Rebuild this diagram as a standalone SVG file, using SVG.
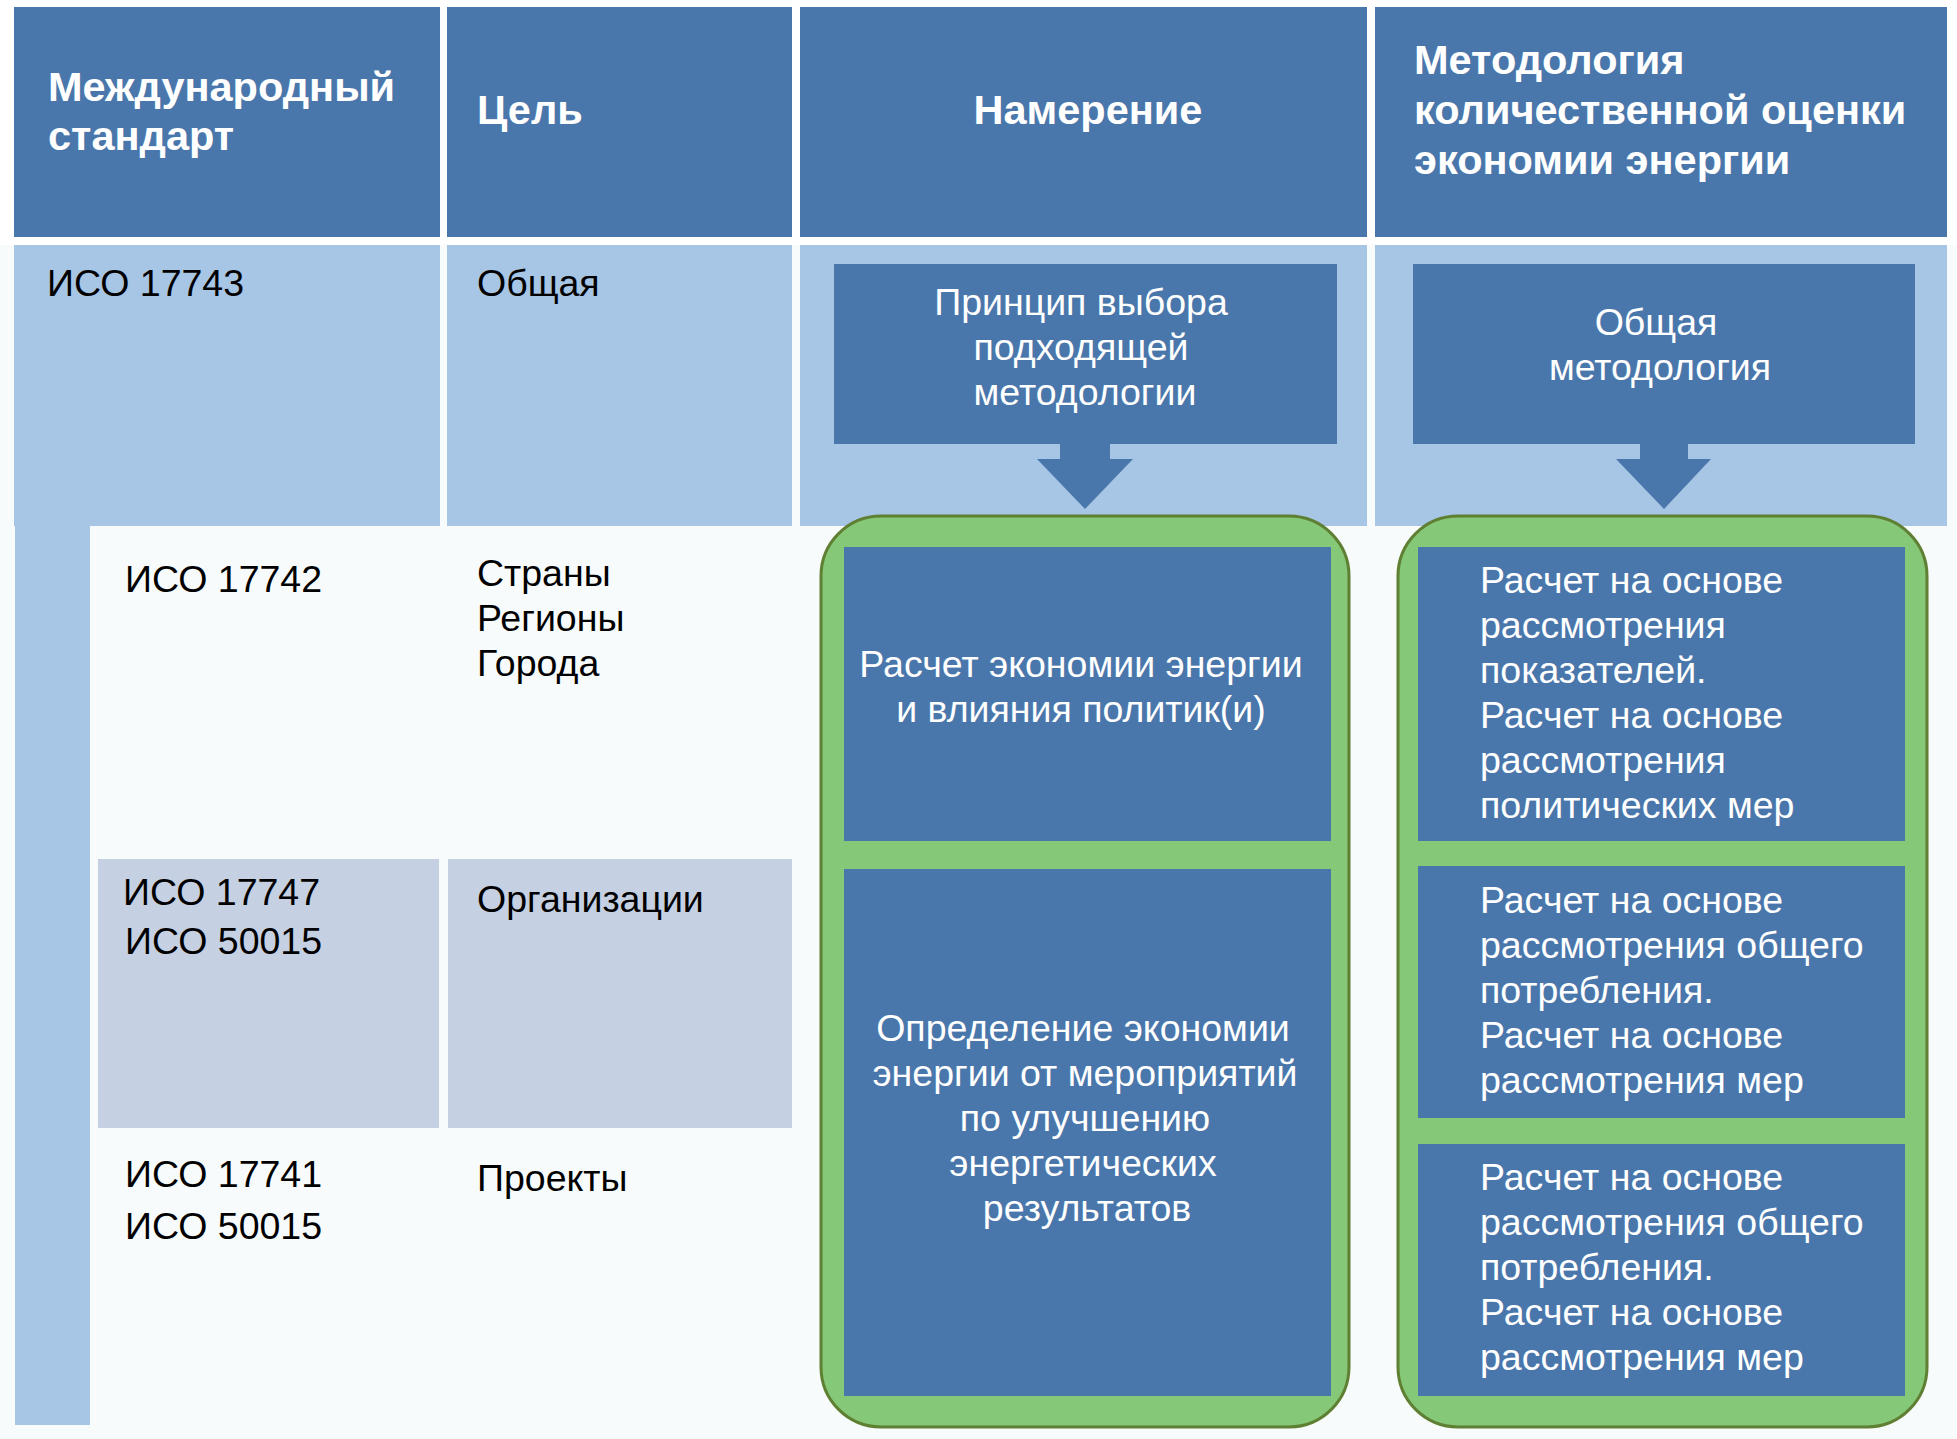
<svg xmlns="http://www.w3.org/2000/svg" width="1957" height="1439" viewBox="0 0 1957 1439">
<style>
.hdr{fill:#4A77AB}
.lb{fill:#A7C5E4}
.gb{fill:#C5D0E2}
.box{fill:#4A77AB}
.grn{fill:#85C878;stroke:#5F7F33;stroke-width:3}
.ht{font-family:"Liberation Sans",Arial,sans-serif;font-weight:bold;font-size:41.5px;fill:#FFFFFF}
.bt{font-family:"Liberation Sans",Arial,sans-serif;font-size:37.5px;fill:#000000}
.wt{font-family:"Liberation Sans",Arial,sans-serif;font-size:37.5px;fill:#FFFFFF}
.c{text-anchor:middle}
</style>
<rect x="0" y="0" width="1957" height="1439" fill="#F7FBFB"/>
<rect x="0" y="0" width="1957" height="245" fill="#FFFFFF"/>

<g id="header-standard"><rect class="hdr" x="14" y="7" width="426" height="230"/>
<text class="ht" x="48" y="101">Международный</text><text class="ht" x="48" y="150">стандарт</text></g>
<g id="header-goal"><rect class="hdr" x="447" y="7" width="345" height="230"/>
<text class="ht" x="477" y="124">Цель</text></g>
<g id="header-intent"><rect class="hdr" x="800" y="7" width="567" height="230"/>
<text class="ht c" x="1088" y="124">Намерение</text></g>
<g id="header-method"><rect class="hdr" x="1375" y="7" width="572" height="230"/>
<text class="ht" x="1414" y="74">Методология</text><text class="ht" x="1414" y="124">количественной оценки</text><text class="ht" x="1414" y="174">экономии энергии</text></g>

<g id="row-17743-std"><rect class="lb" x="14" y="245" width="426" height="281"/>
<text class="bt" x="47" y="296">ИСО 17743</text></g>
<g id="row-17743-goal"><rect class="lb" x="447" y="245" width="345" height="281"/>
<text class="bt" x="477" y="296">Общая</text></g>
<g id="row-17743-intent-cell"><rect class="lb" x="800" y="245" width="567" height="281"/></g>
<g id="row-17743-method-cell"><rect class="lb" x="1375" y="245" width="572" height="281"/></g>

<g id="left-bar"><rect class="lb" x="15" y="526" width="75" height="899"/></g>

<g id="row-17742-std"><text class="bt" x="125" y="592">ИСО 17742</text></g>
<g id="row-17742-goal"><text class="bt" x="477" y="586">Страны</text><text class="bt" x="477" y="631">Регионы</text><text class="bt" x="477" y="676">Города</text></g>

<g id="row-17747-std"><rect class="gb" x="98" y="859" width="341" height="269"/>
<text class="bt" x="123" y="905">ИСО 17747</text><text class="bt" x="125" y="954">ИСО 50015</text></g>
<g id="row-17747-goal"><rect class="gb" x="448" y="859" width="344" height="269"/>
<text class="bt" x="477" y="912">Организации</text></g>

<g id="row-17741-std"><text class="bt" x="125" y="1187">ИСО 17741</text><text class="bt" x="125" y="1239">ИСО 50015</text></g>
<g id="row-17741-goal"><text class="bt" x="477" y="1191">Проекты</text></g>

<g id="intent-group"><rect class="grn" x="821" y="516" width="528" height="911" rx="60" ry="60"/></g>
<g id="method-group"><rect class="grn" x="1398" y="516" width="529" height="911" rx="60" ry="60"/></g>

<g id="principle"><rect class="box" x="834" y="264" width="503" height="180"/>
<text class="wt c" x="1081" y="315">Принцип выбора</text><text class="wt c" x="1081" y="360">подходящей</text><text class="wt c" x="1085" y="405">методологии</text></g>
<g id="general-method"><rect class="box" x="1413" y="264" width="502" height="180"/>
<text class="wt c" x="1656" y="335">Общая</text><text class="wt c" x="1660" y="380">методология</text></g>

<g id="intent-policy"><rect class="box" x="844" y="547" width="487" height="294"/>
<text class="wt c" x="1081" y="677">Расчет экономии энергии</text><text class="wt c" x="1081" y="722">и влияния политик(и)</text></g>
<g id="intent-measures"><rect class="box" x="844" y="869" width="487" height="527"/>
<text class="wt c" x="1083" y="1041">Определение экономии</text><text class="wt c" x="1085" y="1086">энергии от мероприятий</text><text class="wt c" x="1085" y="1131">по улучшению</text><text class="wt c" x="1083" y="1176">энергетических</text><text class="wt c" x="1087" y="1221">результатов</text></g>

<g id="method-1"><rect class="box" x="1418" y="547" width="487" height="294"/>
<text class="wt" x="1480" y="593">Расчет на основе</text><text class="wt" x="1480" y="638">рассмотрения</text><text class="wt" x="1480" y="683">показателей.</text><text class="wt" x="1480" y="728">Расчет на основе</text><text class="wt" x="1480" y="773">рассмотрения</text><text class="wt" x="1480" y="818">политических мер</text></g>
<g id="method-2"><rect class="box" x="1418" y="866" width="487" height="252"/>
<text class="wt" x="1480" y="913">Расчет на основе</text><text class="wt" x="1480" y="958">рассмотрения общего</text><text class="wt" x="1480" y="1003">потребления.</text><text class="wt" x="1480" y="1048">Расчет на основе</text><text class="wt" x="1480" y="1093">рассмотрения мер</text></g>
<g id="method-3"><rect class="box" x="1418" y="1144" width="487" height="252"/>
<text class="wt" x="1480" y="1190">Расчет на основе</text><text class="wt" x="1480" y="1235">рассмотрения общего</text><text class="wt" x="1480" y="1280">потребления.</text><text class="wt" x="1480" y="1325">Расчет на основе</text><text class="wt" x="1480" y="1370">рассмотрения мер</text></g>

<g id="connectors">
<path class="box" d="M1060 443 H1110 V459 H1133 L1085 509 L1037 459 H1060 Z"/>
<path class="box" d="M1640 443 H1688 V459 H1711 L1664 509 L1616 459 H1640 Z"/>
</g>
</svg>
